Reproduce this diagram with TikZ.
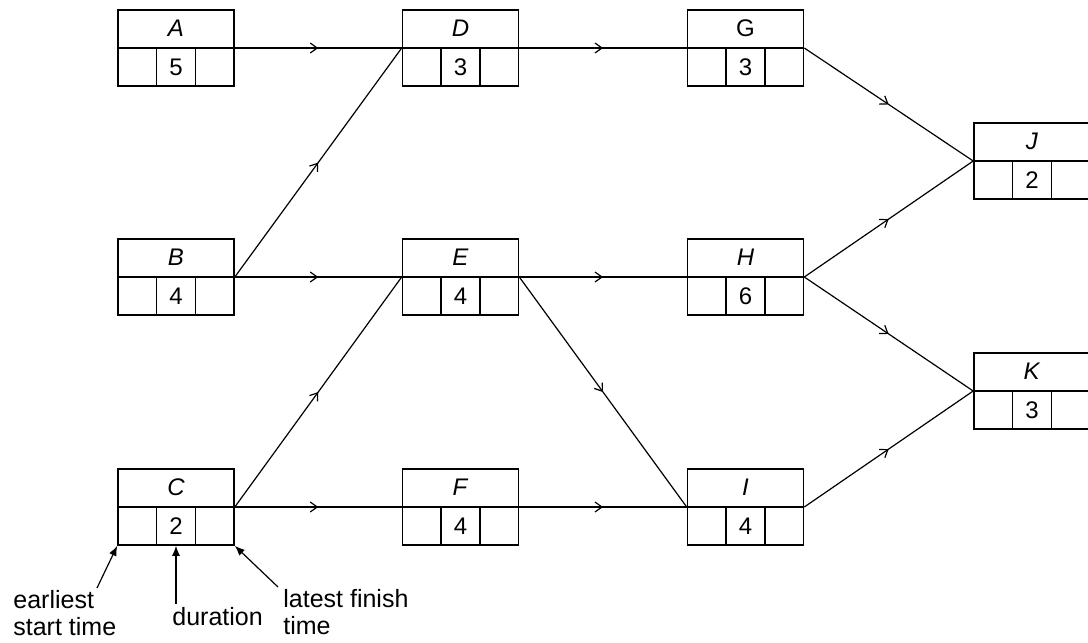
\documentclass[tikz,border=0pt]{standalone}
\usepackage{fontspec}
\setmainfont{Liberation Sans}
\usetikzlibrary{arrows.meta,decorations.markings,calc}

\tikzset{
  task/.style={draw, line width=0.8pt, minimum width=58pt, minimum height=38pt, inner sep=0pt},
  cell/.style={line width=0.8pt},
  flow/.style={line width=0.6pt, postaction={decorate},
    decoration={markings, mark=at position 0.5 with {\arrow{Straight Barb[length=3.5pt,width=5pt,line width=0.6pt]}}}},
  tasktext/.style={font=\fontsize{12}{14}\selectfont, inner sep=0pt},
  note/.style={font=\fontsize{12.5}{14}\selectfont, inner sep=0pt, anchor=base west},
  pointer/.style={line width=0.6pt, -{Latex[length=5pt,width=4pt]}}
}

\begin{document}
\begin{tikzpicture}[x=0.5pt,y=-0.5pt]
\useasboundingbox (0,0) rectangle (1088,643);

% activity boxes: name/x/y/label/duration
\foreach \n/\x/\y/\lbl/\dur in {A/176/48/\textit{A}/5, B/176/277/\textit{B}/4, C/176/507/\textit{C}/2,
  D/460.5/48/\textit{D}/3, E/460.5/277/\textit{E}/4, F/460.5/507/\textit{F}/4,
  G/745.5/48/G/3, H/745.5/277/\textit{H}/6, I/745.5/507/\textit{I}/4,
  J/1032/161/\textit{J}/2, K/1032/391/\textit{K}/3}
{
  \node[task] (\n) at (\x,\y) {};
  \draw[cell] (\n.west) -- (\n.east);
  \draw[cell] ($(\n.south west)!1/3!(\n.south east)$) -- ($(\n.west)!1/3!(\n.east)$);
  \draw[cell] ($(\n.south west)!2/3!(\n.south east)$) -- ($(\n.west)!2/3!(\n.east)$);
  \node[tasktext] (\n-l) at ($(\n.north)!0.5!(\n.center)$) {\lbl};
  \node[tasktext] (\n-d) at ($(\n.south)!0.5!(\n.center)$) {\dur};
}

% precedences
\foreach \s/\e in {A/D,B/D,B/E,C/E,C/F,D/G,E/H,E/I,F/I,G/J,H/J,H/K,I/K}
  \draw[flow] (\s.east) -- (\e.west);

% key
\node[note] (est1) at (13,608) {earliest};
\node[note] (est2) at (13,635) {start time};
\node[note] (dur1) at (172,625) {duration};
\node[note] (lft1) at (283,607) {latest finish};
\node[note] (lft2) at (283,634) {time};
\coordinate (est-end) at (97,588);
\coordinate (dur-end) at (176,604);
\coordinate (lft-end) at (278,587);
\draw[pointer] (est-end) -- (C.south west);
\draw[pointer] (dur-end) -- (C.south);
\draw[pointer] (lft-end) -- (C.south east);
\end{tikzpicture}
\end{document}
